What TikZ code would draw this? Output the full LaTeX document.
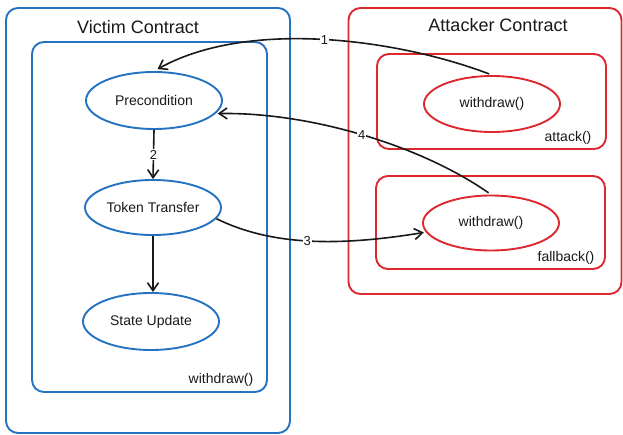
\documentclass[tikz,border=0pt]{standalone}
\usepackage{fontspec}
\setmainfont{Liberation Sans}
\usetikzlibrary{shapes.geometric,arrows.meta,calc}
\definecolor{vblue}{RGB}{36,114,192}
\definecolor{ared}{RGB}{220,40,46}
\definecolor{ink}{RGB}{25,25,25}
\begin{document}
\begin{tikzpicture}[x=1pt,y=-1pt,
  vbox/.style={draw=vblue,line width=1.9pt,rounded corners=12pt,inner sep=0pt},
  abox/.style={draw=ared,line width=1.9pt,rounded corners=12pt,inner sep=0pt},
  vell/.style={ellipse,draw=vblue,line width=1.9pt,minimum width=136pt,minimum height=56pt,inner sep=0pt,font=\fontsize{14}{16}\selectfont,text=ink},
  aell/.style={ellipse,draw=ared,line width=1.9pt,minimum width=136pt,minimum height=56pt,inner sep=0pt,font=\fontsize{14}{16}\selectfont,text=ink},
  title/.style={font=\fontsize{18}{20}\selectfont,text=ink,inner sep=0pt},
  tag/.style={font=\fontsize{14}{16}\selectfont,text=ink,inner sep=0pt},
  conn/.style={draw=ink,line width=1.6pt,-{Straight Barb[length=8pt,width=11pt,line width=1.6pt]}},
  lbl/.style={fill=white,inner sep=1pt,font=\fontsize{13}{15}\selectfont,text=ink}]
\useasboundingbox (0,0) rectangle (623,435);
% boxes
\node[vbox,minimum width=284pt,minimum height=425pt] (victim) at (148,220.5) {};
\node[vbox,minimum width=235pt,minimum height=350pt] (vinner) at (149.5,217) {};
\node[abox,minimum width=273pt,minimum height=286pt] (attacker) at (485,151) {};
\node[abox,minimum width=229pt,minimum height=95pt] (attackbox) at (491.5,101.5) {};
\node[abox,minimum width=229pt,minimum height=93pt] (fallbackbox) at (490.5,222.5) {};
% titles and tags
\node[title] (vtitle) at (138,27) {Victim Contract};
\node[title] (atitle) at (498,25) {Attacker Contract};
\node[tag] (vtag) at (221,380) {withdraw()};
\node[tag] (attag) at (568,138) {attack()};
\node[tag] (fbtag) at (566,258) {fallback()};
% ellipses
\node[vell,minimum height=57pt] (pre) at (154,100.5) {Precondition};
\node[vell,minimum height=55pt] (tt) at (153,207.5) {Token Transfer};
\node[vell,minimum height=57pt] (su) at (151,321.5) {State Update};
\node[aell] (aw) at (492,104) {withdraw()};
\node[aell,minimum height=55pt] (fw) at (491,223) {withdraw()};
% connectors
\draw[conn,shorten <=3pt,shorten >=4pt] (aw.north) .. controls (400,40) and (250,18) .. node[lbl,pos=0.5] (l1) {1} (pre.north);
\draw[conn] (pre.south) -- node[lbl] (l2) {2} (tt.north);
\draw[conn] (tt.south) -- (tt.south |- su.north);
\draw[conn,shorten >=2pt] (tt.-10) .. controls (270,245) and (335,247) .. node[lbl,pos=0.5] (l3) {3} (fw.188);
\draw[conn,shorten <=3pt,shorten >=2pt] (fw.north) .. controls (420,145) and (309,112) .. node[lbl,pos=0.5] (l4) {4} (pre.-12);
\end{tikzpicture}
\end{document}
